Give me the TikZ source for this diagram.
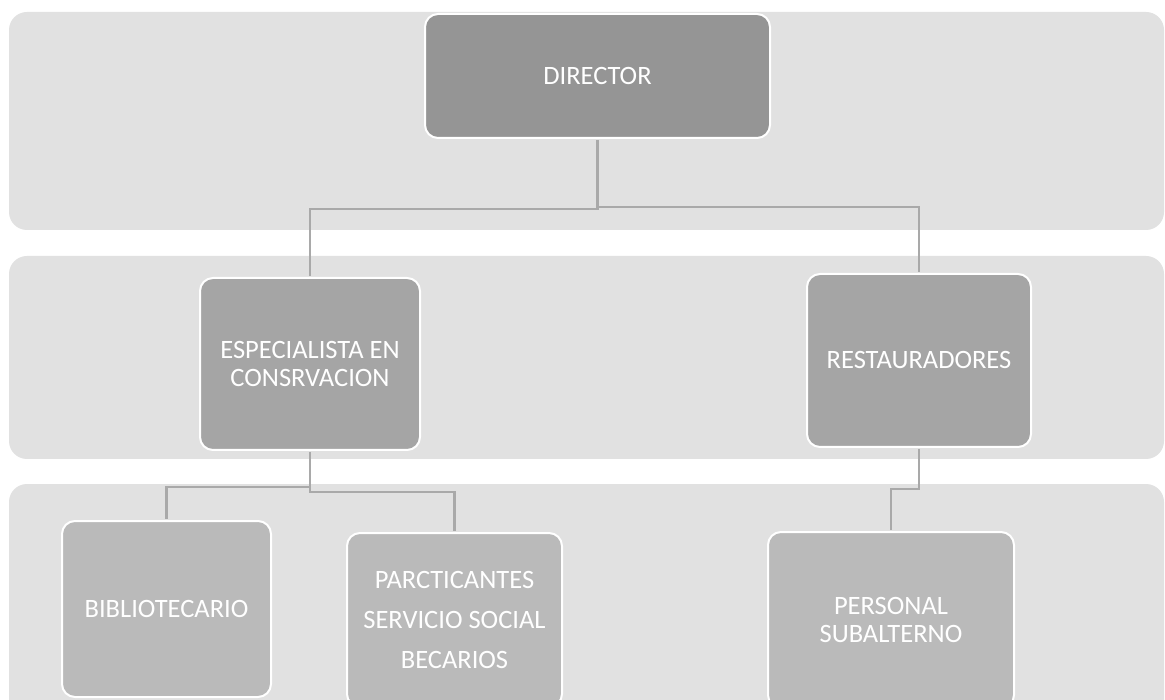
\documentclass[tikz,border=0pt]{standalone}
\usepackage{fontspec}
\setmainfont{Carlito}
\definecolor{bandgray}{HTML}{E1E1E1}
\definecolor{topgray}{HTML}{959595}
\definecolor{midgray}{HTML}{A5A5A5}
\definecolor{lowgray}{HTML}{BABABA}
\definecolor{linkgray}{HTML}{A9A9A9}
\begin{document}
\begin{tikzpicture}[x=1pt,y=-1pt,
  band/.style={fill=bandgray, draw=none, rounded corners=18pt},
  box/.style={draw=white, line width=2pt, rounded corners=13pt, text=white, align=center,
    inner sep=0pt, font=\fontsize{26.5}{28}\selectfont},
  link/.style={draw=linkgray, line width=2.8pt, shorten <=1pt, shorten >=1pt}]
\useasboundingbox (0,0) rectangle (1165,700);
\clip (0,0) rectangle (1165,700);
\fill[white] (0,0) rectangle (1165,700);
% bands
\path[band] (9,12) rectangle (1164,230);
\path[band] (9,256) rectangle (1164,459);
\path[band] (9,484) rectangle (1164,730);
% nodes
\node[box, fill=topgray, minimum width=345pt, minimum height=124pt] (dir) at (597.5,76) {DIRECTOR};
\node[box, fill=midgray, minimum width=220pt, minimum height=172pt] (esp) at (310,364) {ESPECIALISTA EN\\CONSRVACION};
\node[box, fill=midgray, minimum width=224pt, minimum height=173pt] (rest) at (919,360.5) {RESTAURADORES};
\node[box, fill=lowgray, minimum width=209pt, minimum height=176pt] (bib) at (166.5,609) {BIBLIOTECARIO};
\node[box, fill=lowgray, minimum width=215pt, minimum height=174pt, font=\fontsize{26.5}{40}\selectfont] (parc) at (454.5,620) {PARCTICANTES\\SERVICIO SOCIAL\\BECARIOS};
\node[box, fill=lowgray, minimum width=246pt, minimum height=176pt] (pers) at (891,620) {PERSONAL\\SUBALTERNO};
% junctions
\coordinate (j1) at (597.5,209);
\coordinate (j2) at (597.5,207);
\coordinate (j3) at (310,487);
\coordinate (j4) at (310,492);
\coordinate (j5) at (919,489);
% connectors
\draw[link] (dir.south) -- (j1) -| (esp.north);
\draw[link, shorten <=0pt] (j2) -| (rest.north);
\draw[link] (esp.south) -- (j3) -| (bib.north);
\draw[link, shorten <=0pt] (j3) -- (j4) -| (parc.north);
\draw[link] (rest.south) -- (j5) -| (pers.north);
\end{tikzpicture}
\end{document}
